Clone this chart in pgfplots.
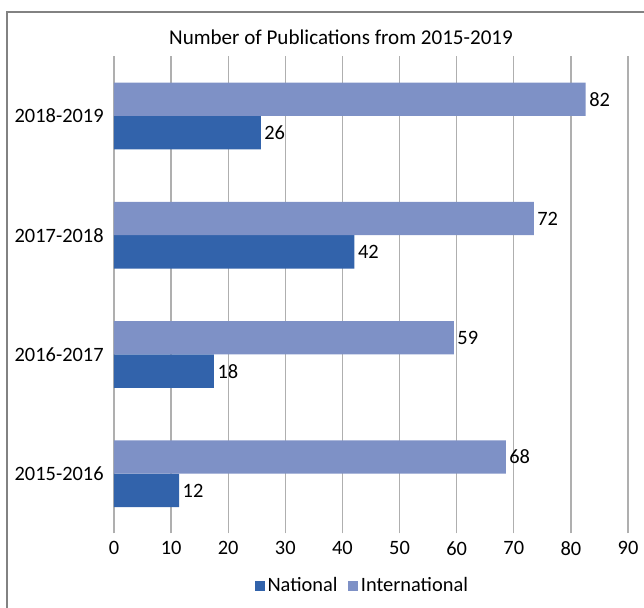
\documentclass[border=0pt]{standalone}
\usepackage{fontspec}
\setmainfont{Carlito}
\usepackage{pgfplots}
\usepackage{pgfplotstable}
\pgfplotsset{compat=1.18}
\definecolor{natc}{RGB}{50,99,171}
\definecolor{intc}{RGB}{126,145,198}
\definecolor{gridc}{RGB}{175,175,175}
\definecolor{framec}{RGB}{130,130,130}
\pgfplotstableread{
y val lab
0 11.4 12
1 17.5 18
2 42.1 42
3 25.7 26
}\national
\pgfplotstableread{
y val lab
0 68.6 68
1 59.5 59
2 73.5 72
3 82.6 82
}\international
\newcommand{\chartfont}{\fontsize{15.3}{18}\selectfont}
\begin{document}
\begin{tikzpicture}
\path[use as bounding box] (0pt,0pt) rectangle (483pt,456pt);
\draw[framec, line width=1pt] (5.25pt,-2pt) -- (5.25pt,447pt) -- (485pt,447pt);
\node[font=\fontsize{15.8}{18}\selectfont] at (255.75pt,428.25pt) {Number of Publications from 2015-2019};
\begin{axis}[at={(85.5pt,56pt)}, anchor=south west, scale only axis,
  width=385.5pt, height=357.75pt,
  xbar, bar width=0.28,
  xmin=0, xmax=90, ymin=-0.5, ymax=3.5,
  xtick={0,10,...,90}, ytick={0,1,2,3},
  yticklabels={2015-2016,2016-2017,2017-2018,2018-2019},
  xmajorgrids, grid style={gridc, line width=1pt},
  axis line style={draw=none}, major tick style={draw=none},
  /pgf/number format/assume math mode=true,
  ticklabel style={font=\chartfont},
  xticklabel style={yshift=-2.5pt},
  point meta=explicit symbolic,
  nodes near coords,
  every node near coord/.append style={font=\chartfont, black, anchor=west, inner sep=2.5pt},
  legend columns=2,
  legend style={draw=none, at={(0.484,-0.11)}, anchor=center, font=\chartfont,
    /tikz/every even column/.append style={column sep=6pt}},
  legend image code/.code={\fill[#1] (0pt,-3.75pt) rectangle (7.5pt,3.75pt);},
]
\addplot[fill=natc, draw=none, bar shift=-0.14] table[x=val, y=y, meta=lab] {\national};
\addplot[fill=intc, draw=none, bar shift=0.14] table[x=val, y=y, meta=lab] {\international};
\legend{National, International}
\end{axis}
\end{tikzpicture}
\end{document}
